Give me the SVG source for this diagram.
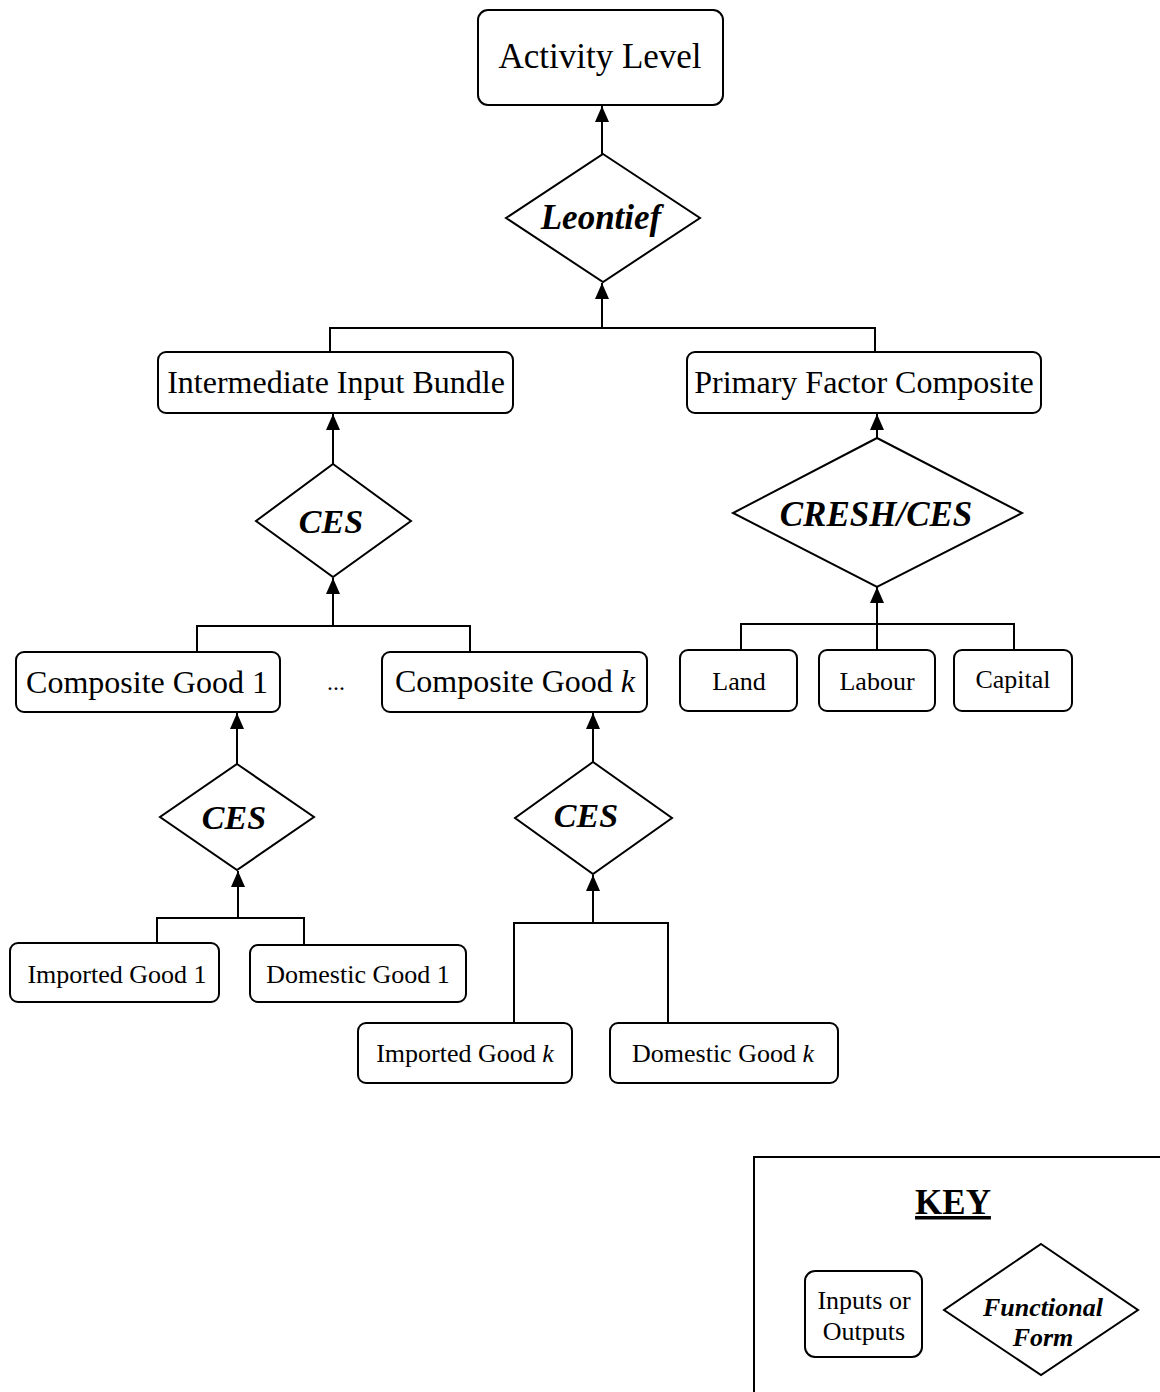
<svg xmlns="http://www.w3.org/2000/svg" width="1160" height="1392" viewBox="0 0 1160 1392">
<style>
.box{fill:#fff;stroke:#000;stroke-width:2}
.dia{fill:#fff;stroke:#000;stroke-width:2}
.t{font-family:"Liberation Serif","Times New Roman",serif;fill:#000;text-anchor:middle}
.f{font-family:"Liberation Serif","Times New Roman",serif;fill:#000;text-anchor:middle;font-weight:bold;font-style:italic}
.c{fill:none;stroke:#000;stroke-width:2}
</style>
<defs>
<marker id="ah" viewBox="0 0 16 14" refX="16" refY="7" markerWidth="16" markerHeight="14" markerUnits="userSpaceOnUse" orient="auto">
<path d="M0,0 L16,7 L0,14 Z" fill="#000"/>
</marker>
</defs>
<g id="connectors">
<path class="c" d="M602,154 V106" marker-end="url(#ah)"/>
<path class="c" d="M602,328 V283" marker-end="url(#ah)"/>
<path class="c" d="M330,352 V328 H875 V352"/>
<path class="c" d="M333,464 V414" marker-end="url(#ah)"/>
<path class="c" d="M333,626 V578" marker-end="url(#ah)"/>
<path class="c" d="M197,652 V626 H470 V652"/>
<path class="c" d="M877,438 V414" marker-end="url(#ah)"/>
<path class="c" d="M877,650 V587" marker-end="url(#ah)"/>
<path class="c" d="M741,650 V624 H1014 V650"/>
<path class="c" d="M237,764 V713" marker-end="url(#ah)"/>
<path class="c" d="M238,918 V871" marker-end="url(#ah)"/>
<path class="c" d="M157,943 V918 H304 V945"/>
<path class="c" d="M593,762 V713" marker-end="url(#ah)"/>
<path class="c" d="M593,923 V875" marker-end="url(#ah)"/>
<path class="c" d="M514,1023 V923 H668 V1023"/>
</g>
<g id="activity"><rect class="box" x="478" y="10" width="245" height="95" rx="10"/><text class="t" x="600" y="68" font-size="35">Activity Level</text></g>
<g id="leontief"><polygon class="dia" points="603,154 700,218 603,282 506,218"/><text class="f" x="601" y="229" font-size="35">Leontief</text></g>
<g id="intermediate"><rect class="box" x="158" y="352" width="355" height="61" rx="8"/><text class="t" x="336" y="393" font-size="32">Intermediate Input Bundle</text></g>
<g id="primary"><rect class="box" x="687" y="352" width="354" height="61" rx="8"/><text class="t" x="864" y="393" font-size="32">Primary Factor Composite</text></g>
<g id="ces-int"><polygon class="dia" points="333,464 411,521 333,577 256,521"/><text class="f" x="331" y="533" font-size="34">CES</text></g>
<g id="cresh"><polygon class="dia" points="877,438 1022,513 877,587 733,513"/><text class="f" x="876" y="526" font-size="35">CRESH/CES</text></g>
<g id="comp1"><rect class="box" x="16" y="652" width="264" height="60" rx="8"/><text class="t" x="147" y="693" font-size="32">Composite Good 1</text></g>
<g id="dots"><text class="t" x="336" y="690" font-size="24">...</text></g>
<g id="compk"><rect class="box" x="382" y="652" width="265" height="60" rx="8"/><text class="t" x="515" y="692" font-size="32">Composite Good <tspan font-style="italic">k</tspan></text></g>
<g id="land"><rect class="box" x="680" y="650" width="117" height="61" rx="8"/><text class="t" x="739" y="690" font-size="26">Land</text></g>
<g id="labour"><rect class="box" x="819" y="650" width="116" height="61" rx="8"/><text class="t" x="877" y="690" font-size="26">Labour</text></g>
<g id="capital"><rect class="box" x="954" y="650" width="118" height="61" rx="8"/><text class="t" x="1013" y="688" font-size="26">Capital</text></g>
<g id="ces-1"><polygon class="dia" points="237,764 314,817 237,870 160,817"/><text class="f" x="234" y="829" font-size="34">CES</text></g>
<g id="ces-k"><polygon class="dia" points="593,762 672,818 593,874 515,818"/><text class="f" x="586" y="827" font-size="34">CES</text></g>
<g id="imp1"><rect class="box" x="10" y="943" width="209" height="59" rx="8"/><text class="t" x="117" y="983" font-size="26">Imported Good 1</text></g>
<g id="dom1"><rect class="box" x="250" y="945" width="216" height="57" rx="8"/><text class="t" x="358" y="983" font-size="26">Domestic Good 1</text></g>
<g id="impk"><rect class="box" x="358" y="1023" width="214" height="60" rx="8"/><text class="t" x="465" y="1062" font-size="26">Imported Good <tspan font-style="italic">k</tspan></text></g>
<g id="domk"><rect class="box" x="610" y="1023" width="228" height="60" rx="8"/><text class="t" x="723" y="1062" font-size="26">Domestic Good <tspan font-style="italic">k</tspan></text></g>
<g id="key">
<rect x="754" y="1157" width="430" height="260" fill="none" stroke="#000" stroke-width="2"/>
<text class="t" x="953" y="1214" font-size="35" font-weight="bold" text-decoration="underline">KEY</text>
<rect class="box" x="805" y="1271" width="117" height="86" rx="10"/>
<text class="t" x="864" y="1309" font-size="26">Inputs or</text>
<text class="t" x="864" y="1340" font-size="26">Outputs</text>
<polygon class="dia" points="1041,1244 1138,1310 1041,1375 944,1310"/>
<text class="f" x="1043" y="1316" font-size="26">Functional</text>
<text class="f" x="1043" y="1346" font-size="26">Form</text>
</g>
</svg>
